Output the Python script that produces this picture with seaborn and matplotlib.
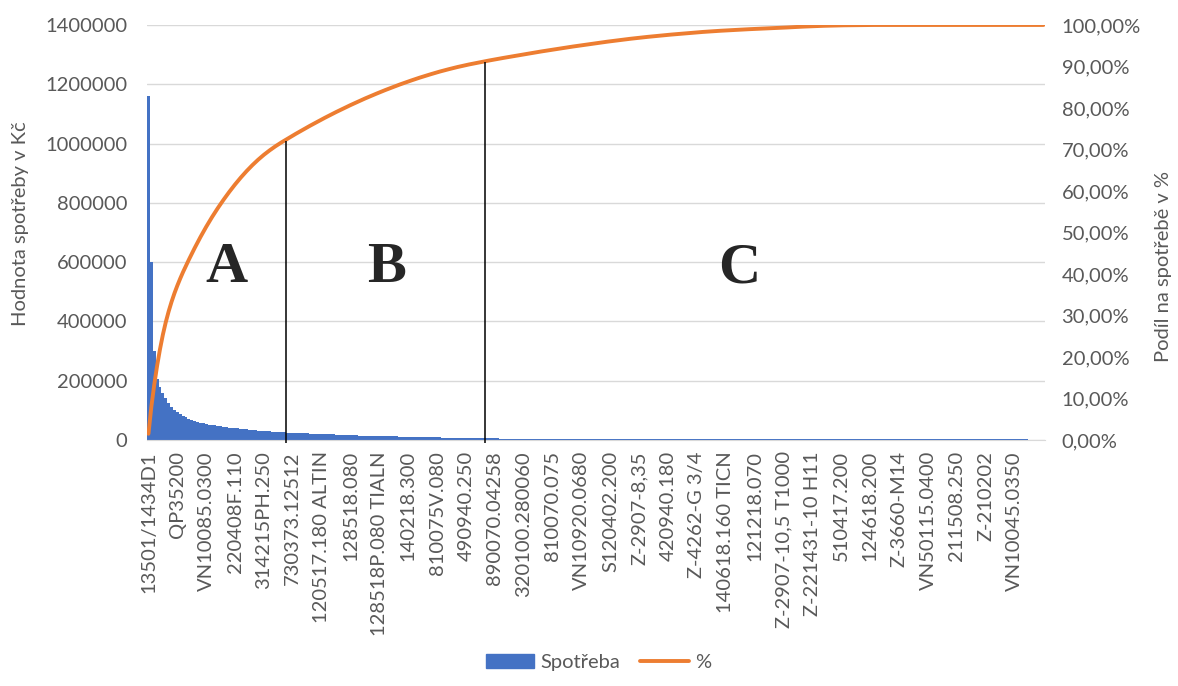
import numpy as np
import pandas as pd
import matplotlib.pyplot as plt
import seaborn as sns
from matplotlib.patches import Patch
from matplotlib.lines import Line2D
from matplotlib.ticker import FuncFormatter

sns.set_style("white")
plt.rcParams['font.family'] = ['Lato', 'DejaVu Sans']

# popisky osy x (kazda 10. polozka)
popisky = ["13501/1434D1", "QP35200", "VN10085.0300", "220408F.110", "314215PH.250",
           "730373.12512", "120517.180 ALTIN", "128518.080", "128518P.080 TIALN", "140218.300",
           "810075V.080", "490940.250", "890070.04258", "320100.280060", "810070.075",
           "VN10920.0680", "S120402.200", "Z-2907-8,35", "420940.180", "Z-4262-G 3/4",
           "140618.160 TICN", "121218.070", "Z-2907-10,5 T1000", "Z-221431-10 H11", "510417.200",
           "124618.200", "Z-3660-M14", "VN50115.0400", "211508.250", "Z-210202",
           "VN10045.0350"]

# spotreba v tis. Kc, serazeno sestupne - skupina A
spotreba_a = [1160, 600, 300, 205, 180, 158, 140, 125, 112, 102,
              94, 87, 80, 76, 72, 68, 65, 62, 59, 56,
              54, 52, 50, 49, 48, 46, 45, 43, 42, 41,
              40, 39, 38, 37, 36, 35, 34, 33, 32, 31,
              30, 30, 29, 28, 28, 27, 26, 26]
# skupina B
spotreba_b = [25, 25, 24, 24, 23, 23,
              22, 22, 21, 21, 21, 20, 20, 20, 19, 19, 19, 18, 18, 18,
              17, 17, 16, 16, 16, 15, 15, 15, 15, 14, 14, 14, 13, 13, 13, 13, 12, 12, 12,
              11, 11, 11, 10, 10, 10, 10, 9.5, 9.5, 9, 9, 9, 8.5, 8.5, 8.5,
              8, 8, 8, 8, 7.5, 7.5, 7.5, 7, 7, 7, 7, 6.5, 6.5, 6.5, 6]
# skupina C
spotreba_c = [6, 6, 5.5, 5.5, 5.5, 5, 5, 5, 5, 4.5,
              4.5, 4.5, 4.5, 4, 4, 4, 4, 4, 3.5, 3.5,
              3.5, 3.5, 3.5, 3, 3, 3, 3, 3,
              2.9, 2.9, 2.9, 2.9, 2.9, 2.9, 2.9, 2.9, 2.9, 2.9,
              2.8, 2.8, 2.8, 2.8, 2.8, 2.8, 2.8, 2.8, 2.8, 2.8,
              2.7, 2.7, 2.7, 2.7, 2.7, 2.7, 2.7, 2.7, 2.7, 2.7,
              2.6, 2.6, 2.6, 2.6, 2.6, 2.6, 2.6, 2.6, 2.6, 2.6,
              2.5, 2.5, 2.5, 2.5, 2.5, 2.5, 2.5, 2.5, 2.5, 2.5,
              2.4, 2.4, 2.4, 2.4, 2.4, 2.4, 2.4, 2.4, 2.4, 2.4,
              2.3, 2.3, 2.3, 2.3, 2.3, 2.3, 2.3, 2.3, 2.3, 2.3,
              2.2, 2.2, 2.2, 2.2, 2.2, 2.2, 2.2, 2.2, 2.2, 2.2,
              2.1, 2.1, 2.1, 2.1, 2.1, 2.1, 2.1, 2.1, 2.1, 2.1,
              2.0, 2.0, 2.0, 2.0, 2.0, 2.0, 2.0, 2.0, 2.0, 2.0,
              1.9, 1.9, 1.9, 1.9, 1.9, 1.9, 1.9, 1.9, 1.9, 1.9,
              1.9, 1.9, 1.9, 1.9, 1.9, 1.9, 1.9, 1.9, 1.9, 1.9,
              1.8, 1.8, 1.8, 1.8, 1.8, 1.8, 1.8, 1.8, 1.8, 1.8,
              1.8, 1.8, 1.8, 1.8, 1.8, 1.8, 1.8, 1.8, 1.8, 1.8,
              1.7, 1.7, 1.7, 1.7, 1.7, 1.7, 1.7, 1.7, 1.7, 1.7,
              1.7, 1.7, 1.7, 1.7, 1.7, 1.7, 1.7, 1.7, 1.7, 1.7,
              1.6, 1.6, 1.6, 1.6, 1.6, 1.6]

# kumulativni podil na spotrebe v %
podil_a = [1.5, 8.0, 13.3, 17.9, 21.9, 25.4, 28.4, 31.0, 33.3, 35.35,
           37.2, 38.9, 40.5, 42.0, 43.45, 44.87, 46.25, 47.59, 48.89, 50.15,
           51.37, 52.55, 53.69, 54.79, 55.85, 56.88, 57.88, 58.85, 59.79, 60.7,
           61.58, 62.43, 63.25, 64.04, 64.8, 65.53, 66.23, 66.9, 67.54, 68.15,
           68.73, 69.28, 69.8, 70.3, 70.78, 71.24, 71.68, 72.1]
podil_b = [72.52, 72.94, 73.35, 73.76, 74.16, 74.56, 74.95, 75.34, 75.73, 76.11,
           76.49, 76.86, 77.23, 77.6, 77.96, 78.32, 78.67, 79.02, 79.36, 79.7,
           80.04, 80.37, 80.7, 81.02, 81.34, 81.66, 81.97, 82.28, 82.58, 82.88,
           83.17, 83.46, 83.75, 84.03, 84.31, 84.58, 84.85, 85.12, 85.38, 85.64,
           85.89, 86.14, 86.38, 86.62, 86.86, 87.09, 87.32, 87.54, 87.76, 87.97,
           88.18, 88.39, 88.59,
           88.79, 88.98, 89.16, 89.34, 89.52, 89.69, 89.86, 90.02, 90.18, 90.33,
           90.48, 90.62, 90.76, 90.9, 91.04, 91.18]
podil_c = [91.31, 91.44, 91.57, 91.7, 91.83, 91.95, 92.07, 92.19, 92.31, 92.43,
           92.55, 92.67, 92.79, 92.91, 93.03, 93.15, 93.27, 93.39,
           93.5, 93.61, 93.72, 93.83, 93.94, 94.05, 94.16, 94.27, 94.38, 94.49,
           94.6, 94.7, 94.8, 94.9, 95.0, 95.1, 95.2, 95.3, 95.4, 95.5,
           95.6, 95.7, 95.8,
           95.89, 95.98, 96.07, 96.16, 96.25, 96.34, 96.43, 96.52, 96.6, 96.68,
           96.76, 96.84, 96.92, 97.0, 97.07, 97.14, 97.21, 97.28, 97.35, 97.42,
           97.49, 97.56, 97.62, 97.68, 97.74, 97.8, 97.86,
           97.92, 97.98, 98.04, 98.1, 98.16, 98.22, 98.27, 98.32, 98.37, 98.42,
           98.47, 98.52, 98.56, 98.6, 98.64, 98.68, 98.72, 98.76, 98.8, 98.84,
           98.88, 98.92, 98.95, 98.98, 99.01, 99.04, 99.07, 99.1, 99.13, 99.16,
           99.19, 99.22, 99.25, 99.28, 99.31,
           99.35, 99.39, 99.43, 99.47, 99.51, 99.55, 99.58, 99.61, 99.64, 99.67,
           99.7, 99.73, 99.76, 99.78, 99.8, 99.82, 99.84, 99.86, 99.88, 99.9,
           99.91, 99.92, 99.93, 99.94, 99.95, 99.96, 99.97, 99.975, 99.98, 99.985,
           99.99, 99.995, 99.995, 100.0,
           100.0, 100.0, 100.0, 100.0, 100.0, 100.0, 100.0, 100.0, 100.0, 100.0,
           100.0, 100.0, 100.0, 100.0, 100.0, 100.0, 100.0, 100.0, 100.0, 100.0,
           100.0, 100.0, 100.0, 100.0, 100.0, 100.0, 100.0, 100.0, 100.0, 100.0,
           100.0, 100.0, 100.0, 100.0, 100.0, 100.0, 100.0, 100.0, 100.0, 100.0,
           100.0, 100.0, 100.0, 100.0, 100.0, 100.0, 100.0, 100.0, 100.0, 100.0,
           100.0, 100.0, 100.0, 100.0, 100.0, 100.0, 100.0]

pocet_a = len(spotreba_a)
pocet_b = len(spotreba_b)

spotreba = np.array(spotreba_a + spotreba_b + spotreba_c) * 1000
podil = np.array(podil_a + podil_b + podil_c)
df = pd.DataFrame({"poradi": np.arange(len(spotreba)), "spotreba": spotreba, "podil": podil})

modra = '#4472C4'
oranzova = '#ED7D31'
seda = '#595959'
velikost = 14.5

fig, ax = plt.subplots(figsize=(11.78, 6.86), dpi=100)
fig.subplots_adjust(left=0.1248, right=0.887, top=0.9636, bottom=0.3586)

sns.barplot(data=df, x="poradi", y="spotreba", color=modra, saturation=1, width=1.0,
            linewidth=0, errorbar=None, ax=ax)
ax.set_ylim(0, 1400000)
ax.set_yticks(np.arange(0, 1400001, 200000))
ax.yaxis.set_major_formatter(FuncFormatter(lambda v, p: f"{v:.0f}"))
ax.set_xlim(-0.5, len(df) - 0.5)
ax.set_xticks(np.arange(0, len(popisky) * 10, 10))
ax.set_xticklabels(popisky, rotation=90)
ax.yaxis.grid(True, color='#D9D9D9', linewidth=1)
ax.set_axisbelow(True)
ax.tick_params(axis='both', colors=seda, labelsize=velikost, length=0)
ax.tick_params(axis='y', pad=14)
ax.tick_params(axis='x', pad=8)
for s in ['top', 'left', 'right']:
    ax.spines[s].set_visible(False)
ax.spines['bottom'].set_color('#D9D9D9')
ax.set_xlabel('')
ax.set_ylabel('Hodnota spotřeby v Kč', color=seda, fontsize=velikost)
ax.yaxis.set_label_coords(-0.131, 0.52)

ax2 = ax.twinx()
sns.lineplot(data=df, x="poradi", y="podil", color=oranzova, linewidth=2.8, ax=ax2)
ax2.set_ylim(0, 100)
ax2.set_yticks(np.arange(0, 101, 10))
ax2.set_yticklabels([f"{v:.2f}%".replace('.', ',') for v in np.arange(0, 101, 10)])
ax2.tick_params(axis='y', colors=seda, labelsize=velikost, length=0, pad=12)
for s in ax2.spines.values():
    s.set_visible(False)
ax2.set_ylabel('Podíl na spotřebě v %', color=seda, fontsize=velikost)
ax2.yaxis.set_label_coords(1.1225, 0.417)
ax2.set_xlabel('')

# hranice skupin A/B a B/C
for konec in [pocet_a, pocet_a + pocet_b]:
    ax2.vlines(konec - 0.5, -0.8, podil[konec - 1], color='black', linewidth=1.1, clip_on=False)

for pismeno, xf in [('A', 0.089), ('B', 0.267), ('C', 0.66)]:
    ax.text(xf, 0.414, pismeno, transform=ax.transAxes, ha='center', va='center',
            fontsize=42, fontweight='bold', family='Liberation Serif')

handles = [Patch(color=modra), Line2D([0], [0], color=oranzova, linewidth=2.8)]
fig.legend(handles, ['Spotřeba', '%'], loc='lower center', bbox_to_anchor=(0.508, -0.005),
           ncol=2, frameon=False, fontsize=velikost, handlelength=2.4, columnspacing=1.0,
           handletextpad=0.3, labelcolor=seda)

fig.savefig('out.png', dpi=100)
